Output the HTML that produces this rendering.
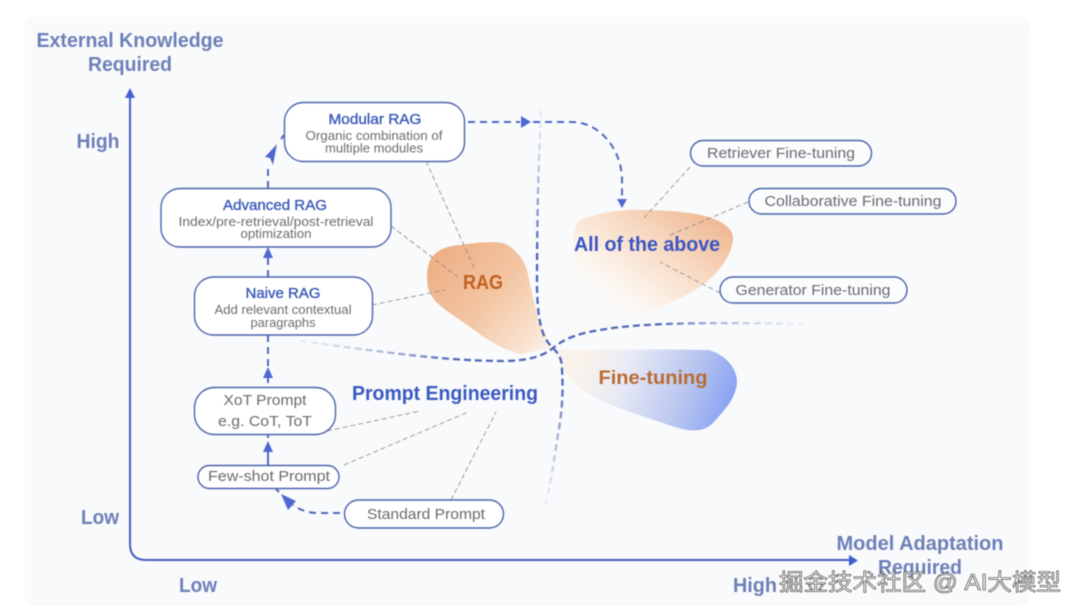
<!DOCTYPE html>
<html><head><meta charset="utf-8"><style>
html,body{margin:0;padding:0;background:#fff;width:1080px;height:614px;overflow:hidden}
svg{display:block;filter:blur(.4px)}
text{font-family:"Liberation Sans","Noto Sans CJK SC",sans-serif;text-anchor:middle}
.ax{fill:#6d7fb8;font-weight:bold;font-size:20px}
.tt{fill:#3a59b8;stroke:#3a59b8;stroke-width:.35;font-size:14.5px}
.sb{fill:#6a6c72;font-size:12.5px}
.lb{fill:#686a70;font-size:15px}
.n{fill:#fff;stroke:#4a63ad;stroke-width:1.4}
.f{fill:#fbfcfd;stroke:#4a63ad;stroke-width:1.4}
.d{fill:none;stroke:#4f68c0;stroke-width:2;stroke-dasharray:7 5}
.g{fill:none;stroke:#85868f;stroke-width:.8;stroke-dasharray:5 3}
.h{fill:#4d68d0}
</style></head><body>
<svg width="1080" height="614" viewBox="0 0 1080 614" xmlns="http://www.w3.org/2000/svg">
<defs>
<linearGradient id="r" x1="435" y1="260" x2="550" y2="358" gradientUnits="userSpaceOnUse"><stop offset="0" stop-color="#eeb086"/><stop offset=".45" stop-color="#f3c6a3"/><stop offset=".85" stop-color="#fae6d5"/><stop offset="1" stop-color="#fdf6ef" stop-opacity=".7"/></linearGradient>
<linearGradient id="a" x1="705" y1="212" x2="630" y2="315" gradientUnits="userSpaceOnUse"><stop offset="0" stop-color="#f0b994"/><stop offset=".45" stop-color="#f8dcc6"/><stop offset=".8" stop-color="#fcf2e9"/><stop offset="1" stop-color="#fdf8f3" stop-opacity=".3"/></linearGradient>
<linearGradient id="ft" x1="575" y1="365" x2="725" y2="420" gradientUnits="userSpaceOnUse"><stop offset="0" stop-color="#fbf0e4" stop-opacity=".7"/><stop offset=".3" stop-color="#e9ebf6"/><stop offset=".72" stop-color="#b6c4ef"/><stop offset="1" stop-color="#8aa3f4"/></linearGradient>
<linearGradient id="h1" x1="300" y1="0" x2="810" y2="0" gradientUnits="userSpaceOnUse"><stop offset="0" stop-color="#c8cfe2" stop-opacity=".3"/><stop offset=".3" stop-color="#4f68b8"/><stop offset=".7" stop-color="#4f68b8"/><stop offset="1" stop-color="#c8cfe2" stop-opacity=".15"/></linearGradient>
<linearGradient id="v1" x1="0" y1="110" x2="0" y2="510" gradientUnits="userSpaceOnUse"><stop offset="0" stop-color="#c5cfe8" stop-opacity=".3"/><stop offset=".35" stop-color="#4a62c0"/><stop offset=".7" stop-color="#5069b8"/><stop offset="1" stop-color="#c8cfe2" stop-opacity=".2"/></linearGradient>
</defs>
<rect x="24" y="16" width="1007" height="590" rx="12" fill="#f9fafb"/>

<path d="M427 277C427 255 438 247 460 245C475 243 490 241 503 243C515 248 523 258 527 270C532 290 535 320 553 348L520 354C495 347 480 334 460 320C437 304 427 298 427 277Z" fill="url(#r)"/>
<path d="M580 220C600 212 620 210 640 210C665 210 690 212 705 216C722 221 734 228 733 240C731 258 715 278 695 290C660 310 620 325 580 338L553 348C570 320 578 290 576 265C574 248 570 228 580 220Z" fill="url(#a)"/>
<path d="M553 350C590 350 650 349 708 350C725 354 737 368 737 382C736 398 725 410 712 424C703 432 690 432 675 427C640 415 605 405 585 392C570 380 560 365 553 350Z" fill="url(#ft)"/>

<path d="M300 341C370 350 440 361 503 361C530 361 545 355 553 348C565 338 580 333 600 330C640 323 700 322 810 324" fill="none" stroke="url(#h1)" stroke-width="2.300" stroke-dasharray="7 4"/>
<path d="M541 110C538 170 537 230 537 283C537 305 539 320 542 330C545 340 549 344 553 348C560 355 562 360 562 370C564 400 560 425 557 440C553 470 548 495 544 510" fill="none" stroke="url(#v1)" stroke-width="2.300" stroke-dasharray="7 4"/>

<path d="M130 94V544Q130 560 146 560H851" fill="none" stroke="#4360c4" stroke-width="2"/>
<path d="M125 98L130 88L135 98Z" fill="#3f5fd0"/>
<path d="M849 555L858 560.500L849 566Z" fill="#3f5fd0"/>

<g class="g">
<path d="M426 161L475 270"/><path d="M391 226L458 277"/><path d="M372 305L445 290"/>
<path d="M327 431L420 411"/><path d="M344 465L468 412"/><path d="M451 500L496 412"/>
<path d="M690 167L644 218"/><path d="M748 202L668 236"/><path d="M720 293L660 262"/>
</g>

<path class="d" d="M268 277V258"/><path class="h" d="M263 258L268 247L273 258Z"/>
<path class="d" d="M268 188V168"/><path class="h" d="M277 144L265 157L270 158L273 165Z"/>
<path d="M281 139L284 135" fill="none" stroke="#4f68c0" stroke-width="2"/>
<path class="d" d="M268 335V367"/><path class="h" d="M263 378L268 367L273 378Z"/>
<path d="M268 378V383M268 435V438M268 452V465" fill="none" stroke="#4f68c0" stroke-width="2"/>
<path class="h" d="M263 452L268 441L273 452Z"/>
<path class="d" d="M340 513H318C308 513 300 510 293 505"/><path class="h" d="M281 494L296 501L288 510Z"/>
<path d="M276 489L279 492" fill="none" stroke="#4f68c0" stroke-width="2"/>
<path class="d" d="M468 122H520"/>
<path class="h" d="M521 116L531 122L521 128Z"/>
<path class="d" d="M533 122H572C600 122 622 150 622 180V200"/>
<path class="h" d="M617 199L622 208L627 199Z"/>

<rect class="n" x="284.500" y="102.500" width="180" height="59" rx="19"/>
<rect class="n" x="161" y="188.500" width="230" height="58.500" rx="19"/>
<rect class="n" x="194.500" y="277" width="178" height="58" rx="19"/>
<rect class="n" x="194.500" y="387.500" width="141" height="47" rx="20"/>
<rect class="n" x="198" y="465.500" width="141" height="23" rx="11.500"/>
<rect class="n" x="344.500" y="500" width="159" height="28" rx="14"/>
<rect class="f" x="690.500" y="140.500" width="181" height="25.500" rx="12.700"/>
<rect class="f" x="749" y="188.500" width="207" height="25.500" rx="12.700"/>
<rect class="f" x="720" y="277" width="187" height="26" rx="13"/>

<text class="ax" x="130" y="47" textLength="187" lengthAdjust="spacingAndGlyphs">External Knowledge</text>
<text class="ax" x="130" y="71" textLength="84" lengthAdjust="spacingAndGlyphs">Required</text>
<text class="ax" x="98" y="148" textLength="43" lengthAdjust="spacingAndGlyphs">High</text>
<text class="ax" x="100" y="524" textLength="38" lengthAdjust="spacingAndGlyphs">Low</text>
<text class="ax" x="198" y="592" textLength="38" lengthAdjust="spacingAndGlyphs">Low</text>
<text class="ax" x="920" y="550" textLength="167" lengthAdjust="spacingAndGlyphs">Model Adaptation</text>
<text class="ax" x="920" y="574" textLength="84" lengthAdjust="spacingAndGlyphs">Required</text>
<text class="ax" x="755" y="592" textLength="44" lengthAdjust="spacingAndGlyphs">High</text>

<text class="tt" x="375" y="124" textLength="93" lengthAdjust="spacingAndGlyphs">Modular RAG</text>
<text class="sb" x="374" y="140" textLength="137" lengthAdjust="spacingAndGlyphs">Organic combination of</text>
<text class="sb" x="374" y="152.500" textLength="98" lengthAdjust="spacingAndGlyphs">multiple modules</text>
<text class="tt" x="275" y="210" textLength="104" lengthAdjust="spacingAndGlyphs">Advanced RAG</text>
<text class="sb" x="276" y="226" textLength="195" lengthAdjust="spacingAndGlyphs">Index/pre-retrieval/post-retrieval</text>
<text class="sb" x="276" y="238" textLength="71" lengthAdjust="spacingAndGlyphs">optimization</text>
<text class="tt" x="283" y="298" textLength="75" lengthAdjust="spacingAndGlyphs">Naive RAG</text>
<text class="sb" x="283" y="314" textLength="137" lengthAdjust="spacingAndGlyphs">Add relevant contextual</text>
<text class="sb" x="283" y="327" textLength="65" lengthAdjust="spacingAndGlyphs">paragraphs</text>
<text class="lb" x="265" y="405" textLength="83" lengthAdjust="spacingAndGlyphs">XoT Prompt</text>
<text class="lb" x="265" y="426" textLength="94" lengthAdjust="spacingAndGlyphs">e.g. CoT, ToT</text>
<text class="lb" x="269" y="481" textLength="122" lengthAdjust="spacingAndGlyphs">Few-shot Prompt</text>
<text class="lb" x="426" y="519" textLength="118" lengthAdjust="spacingAndGlyphs">Standard Prompt</text>
<text class="lb" x="781" y="158" textLength="148" lengthAdjust="spacingAndGlyphs">Retriever Fine-tuning</text>
<text class="lb" x="853" y="206" textLength="177" lengthAdjust="spacingAndGlyphs">Collaborative Fine-tuning</text>
<text class="lb" x="813" y="295" textLength="155" lengthAdjust="spacingAndGlyphs">Generator Fine-tuning</text>

<text x="445" y="400" fill="#3a59c0" font-weight="bold" font-size="20" textLength="186" lengthAdjust="spacingAndGlyphs">Prompt Engineering</text>
<text x="647" y="251" fill="#3b55c4" font-weight="bold" font-size="20" textLength="146" lengthAdjust="spacingAndGlyphs">All of the above</text>
<text x="483" y="289" fill="#c0601f" font-weight="bold" font-size="20" textLength="40" lengthAdjust="spacingAndGlyphs">RAG</text>
<text x="653" y="384" fill="#b96a30" font-weight="bold" font-size="19" textLength="109" lengthAdjust="spacingAndGlyphs">Fine-tuning</text>

<text x="920" y="590" font-size="23" fill="#f8f8f8" stroke="#333" stroke-width=".6" textLength="282" lengthAdjust="spacingAndGlyphs">掘金技术社区 @ AI大模型</text>
</svg>
</body></html>
